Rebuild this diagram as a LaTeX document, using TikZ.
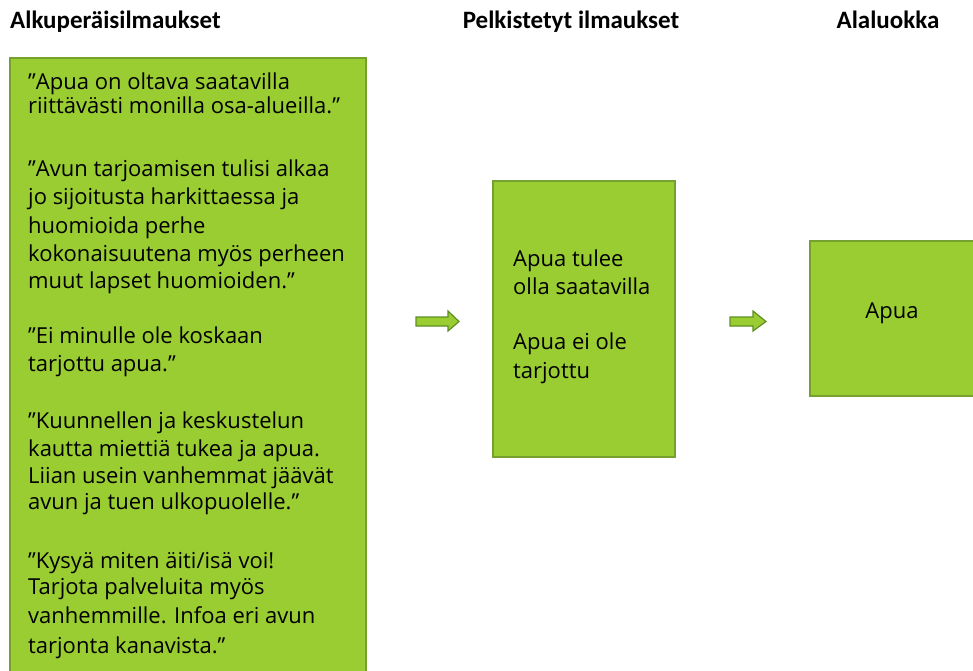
\documentclass[tikz,border=0pt]{standalone}
\usepackage{fontspec}
\setmainfont{Open Sans}
\newfontfamily\headfont{Carlito}
\definecolor{boxfill}{HTML}{9ACD32}
\definecolor{boxline}{HTML}{77A12F}
\definecolor{arrline}{HTML}{5F8F22}
\begin{document}
\begin{tikzpicture}[x=1pt,y=-1pt,
  box/.style={draw=boxline, line width=1.5pt, fill=boxfill, inner sep=0pt, outer sep=0pt, anchor=north west},
  headtxt/.style={font=\headfont\bfseries\fontsize{25}{29}\selectfont, anchor=base, inner sep=0pt},
  txt/.style={font=\fontsize{22}{26}\selectfont, anchor=base west, inner sep=0pt, text=black},
  blockarrow/.style={draw=arrline, line width=1.2pt, fill=boxfill, line join=miter}]
\useasboundingbox (0,0) rectangle (973,670);
% headers
\node[headtxt, anchor=base west] (h1) at (10,28) {Alkuperäisilmaukset};
\node[headtxt] (h2) at (571,28) {Pelkistetyt ilmaukset};
\node[headtxt] (h3) at (888,28) {Alaluokka};
% boxes
\node[box, minimum width=356pt, minimum height=640pt] (orig) at (10,58) {};
\node[box, minimum width=182pt, minimum height=276pt] (simp) at (493,181) {};
\node[box, minimum width=180pt, minimum height=155pt] (sub) at (810,241) {};
% left texts
\node[txt] (l1) at (28,89) {”Apua on oltava saatavilla};
\node[txt] (l2) at (28,113) {riittävästi monilla osa-alueilla.”};
\node[txt] (l3) at (28,176) {”Avun tarjoamisen tulisi alkaa};
\node[txt] (l4) at (28,204) {jo sijoitusta harkittaessa ja};
\node[txt] (l5) at (28,233) {huomioida perhe};
\node[txt] (l6) at (28,261) {kokonaisuutena myös perheen};
\node[txt] (l7) at (28,288) {muut lapset huomioiden.”};
\node[txt] (l8) at (28,343) {”Ei minulle ole koskaan};
\node[txt] (l9) at (28,371) {tarjottu apua.”};
\node[txt] (l10) at (28,428) {”Kuunnellen ja keskustelun};
\node[txt] (l11) at (28,456) {kautta miettiä tukea ja apua.};
\node[txt] (l12) at (28,483) {Liian usein vanhemmat jäävät};
\node[txt] (l13) at (28,509) {avun ja tuen ulkopuolelle.”};
\node[txt] (l14) at (28,568) {”Kysyä miten äiti/isä voi!};
\node[txt] (l15) at (28,594) {Tarjota palveluita myös};
\node[txt] (l16) at (28,623) {vanhemmille. Infoa eri avun};
\node[txt] (l17) at (28,653) {tarjonta kanavista.”};
% middle texts
\node[txt] (m1) at (513,266) {Apua tulee};
\node[txt] (m2) at (513,294) {olla saatavilla};
\node[txt] (m3) at (513,349) {Apua ei ole};
\node[txt] (m4) at (513,378) {tarjottu};
% right text
\node[txt, anchor=base] (r1) at (892,318) {Apua};
% block arrows
\draw[blockarrow] (416,317) -- (448,317) -- (448,311) -- (459,321.5) -- (448,331) -- (448,326) -- (416,326) -- cycle;
\draw[blockarrow] (730,317) -- (753,317) -- (753,311) -- (766,321.5) -- (753,331) -- (753,326) -- (730,326) -- cycle;
\end{tikzpicture}
\end{document}
